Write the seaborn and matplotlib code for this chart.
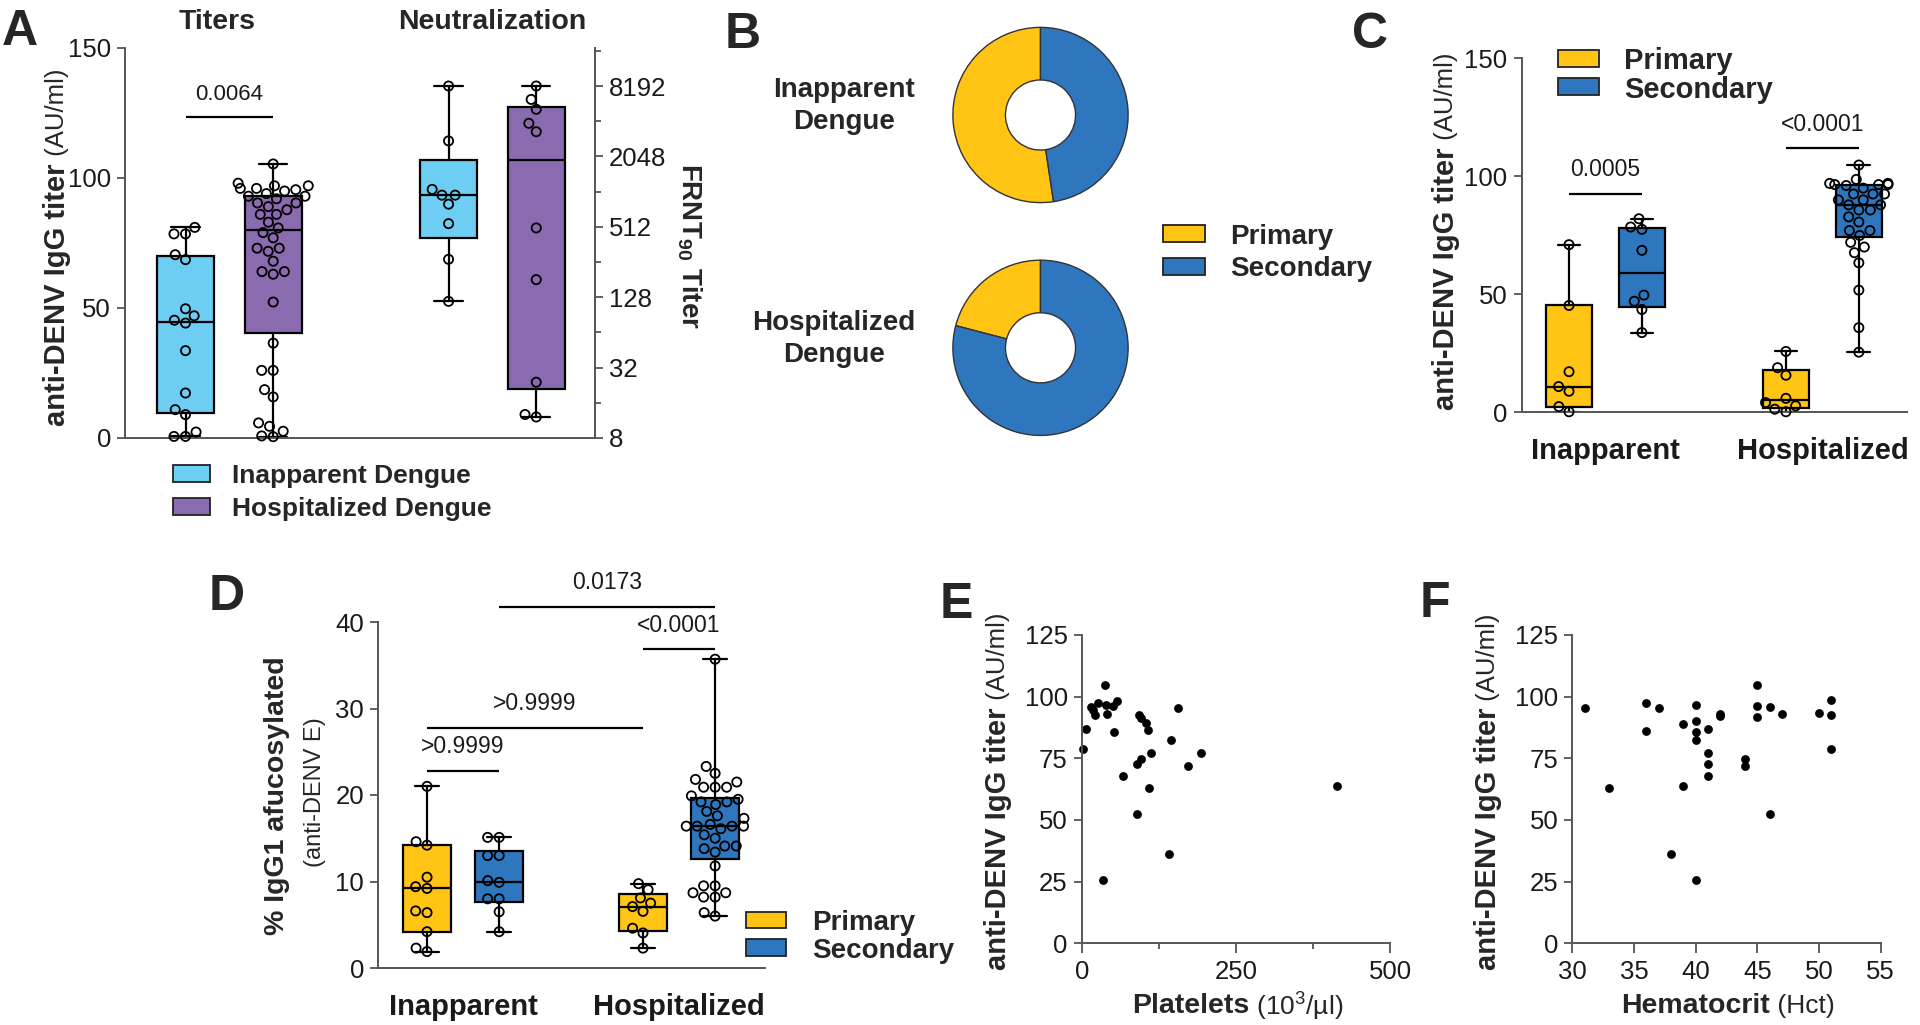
import numpy as np
import pandas as pd
import matplotlib
matplotlib.use('Agg')
import matplotlib.pyplot as plt
import seaborn as sns
from matplotlib.patches import Rectangle
from matplotlib.ticker import FixedLocator, FixedFormatter, NullFormatter

sns.set_style('ticks')
plt.rcParams['font.family'] = ['Liberation Sans', 'DejaVu Sans']
plt.rcParams['mathtext.fontset'] = 'custom'
plt.rcParams['mathtext.rm'] = 'Liberation Sans'
plt.rcParams['mathtext.bf'] = 'Liberation Sans:bold'
plt.rcParams['mathtext.it'] = 'Liberation Sans:italic'
plt.rcParams['mathtext.sf'] = 'Liberation Sans'

# ---------------- DATA ----------------
# Panel A - titers (AU/ml) and FRNT90 neutralization titers
groups_A = ['Inapparent Dengue', 'Hospitalized Dengue']
titer_inapparent = [81, 78.5, 78.5, 70.5, 68.6, 49.7, 47, 45.3, 44.2, 33.6, 17.3, 10.9, 9, 2.3, 0.6, 0.6]
titer_hospitalized = [0.5, 0.8, 2.6, 4.5, 5.8, 15.8, 18.6, 26, 26, 36.5,
                      52.3, 63, 64, 64, 68, 71.8, 73, 73, 77, 79,
                      80.8, 83, 86, 86, 87.8, 89, 90.4, 90.4, 92, 93,
                      93, 94, 95, 95.5, 96, 96, 97, 97, 98, 105.4]
frnt_inapparent = [8192, 2780, 1070, 955, 955, 800, 545, 270, 118]
frnt_hospitalized = [8192, 6290, 5180, 3930, 3330, 501, 181, 24, 12.7, 12.1]
frnt_ticks = [8, 32, 128, 512, 2048, 8192]
pval_A = '0.0064'

# Panel B - primary / secondary infection counts
pie_groups = ['Inapparent\nDengue', 'Hospitalized\nDengue']
pie_primary = [11, 9]
pie_secondary = [10, 34]
infection_types = ['Primary', 'Secondary']

# Panel C - anti-DENV IgG titer by infection type
groups_CD = ['Inapparent', 'Hospitalized']
c_inapp_primary = [71, 45.2, 17.1, 10.8, 8.8, 2.3, 0.1]
c_inapp_secondary = [82, 78.5, 77.5, 68.6, 49.6, 47, 43.5, 33.7]
c_hosp_primary = [25.7, 18.8, 15.6, 5.8, 4.0, 2.6, 1.2, 0.1]
c_hosp_secondary = [104.8, 98.7, 97, 97, 96.5, 96.5, 96.5, 96.1, 95, 92.5, 92.5, 92.5,
                    90, 90, 87.9, 87.9, 85.7, 85.7, 82.8, 80.6, 77, 77, 74.9, 72, 70,
                    67.6, 63.3, 51.7, 35.8, 25.4]
pvals_C = ['0.0005', '<0.0001']

# Panel D - % IgG1 afucosylated
d_inapp_primary = [21.0, 14.6, 14.2, 10.5, 9.4, 9.2, 6.6, 6.4, 4.2, 2.3, 1.9]
d_inapp_secondary = [15.1, 15.1, 13.0, 13.0, 10.1, 9.9, 8.0, 8.0, 6.5, 4.2]
d_hosp_primary = [9.75, 9.05, 8.1, 7.5, 7.1, 6.55, 4.6, 4.05, 2.3]
d_hosp_secondary = [35.7, 23.3, 22.5, 21.8, 21.5, 20.9, 20.9, 20.9, 19.9, 19.5, 19.2, 19.2,
                    18.9, 18.1, 17.6, 17.3, 16.6, 16.4, 16.4, 16.4, 16.4, 16.1, 15.4, 15.0,
                    14.1, 14.1, 13.8, 13.4, 11.8, 9.5, 9.5, 8.7, 8.7, 8.2, 8.2, 6.4, 6.0]
pvals_D = ['>0.9999', '>0.9999', '<0.0001', '0.0173']

# Panel E - platelets vs titer
platelets = [1.6, 6.5, 14.6, 17.8, 21.6, 25.9, 37.8, 39.5, 40.5, 51.4, 57.8, 52.4, 34, 66.5,
             89.2, 93, 96.2, 96.2, 103.8, 108.1, 112.4, 109.7, 89.7, 142.2, 144.9, 156.7,
             171.9, 193.5, 414.6]
titer_E = [78.8, 86.9, 95.9, 94.6, 92.6, 97.3, 104.7, 96.6, 93, 96.4, 98.2, 85.8, 25.7, 67.8,
           72.7, 92.6, 91.2, 74.7, 89.2, 86.5, 77, 62.8, 52.3, 36.2, 82.4, 95.3, 71.8, 77, 63.9]

# Panel F - hematocrit vs titer
hct = [31, 33, 36, 36, 37, 38, 39, 39, 40, 40, 40, 40, 40, 41, 41, 41, 41, 42, 42, 44, 44,
       45, 45, 45, 46, 46, 47, 50, 51, 51, 51]
titer_F = [95.3, 62.8, 97.3, 86.2, 95.3, 36.2, 88.9, 63.9, 96.5, 90.3, 85.8, 82.4, 25.7, 86.9,
           77, 72.7, 67.8, 93, 92.2, 74.7, 71.8, 104.9, 96.2, 91.9, 95.9, 52.3, 92.8, 93.2,
           98.6, 92.4, 78.8]

# ---------------- STYLE ----------------
LBLUE = '#6DCDF2'
PURPLE = '#8B6BAF'
YELLOW = '#FFC414'
BLUE = '#2E77BE'
AXC = '#555555'
TICK_FS = 18.5

W, H = 1920, 1025
fig = plt.figure(figsize=(W / 100, H / 100), dpi=100)


def fx(x):
    return x / W


def fy(y):
    return 1 - y / H


def add_ax(l, t, r, b):
    return fig.add_axes([fx(l), fy(b), (r - l) / W, (b - t) / H])


def ftext(x, y, s, **kw):
    return fig.text(fx(x), fy(y), s, **kw)


def style(ax, left=True, bottom=True, right=False):
    for side in ['top', 'right', 'left', 'bottom']:
        ax.spines[side].set_visible(False)
    for side, vis in [('left', left), ('bottom', bottom), ('right', right)]:
        if vis:
            ax.spines[side].set_visible(True)
            ax.spines[side].set_color(AXC)
            ax.spines[side].set_linewidth(1.4)
    ax.tick_params(axis='both', which='major', labelsize=TICK_FS, length=6, width=1.3,
                   color=AXC, labelcolor='#1a1a1a', pad=4)
    ax.tick_params(axis='both', which='minor', length=4, width=1.3, color=AXC)


def gp_stats(vals):
    v = np.asarray(vals, float)
    q1, med, q3 = np.percentile(v, [25, 50, 75], method='weibull')
    return dict(med=med, q1=q1, q3=q3, whislo=v.min(), whishi=v.max(), fliers=[])


def draw_boxes(ax, datasets, positions, colors, width):
    lw = 1.6
    res = ax.bxp([gp_stats(d) for d in datasets], positions=positions, widths=width,
                 capwidths=width * 0.5, patch_artist=True, showfliers=False,
                 manage_ticks=False,
                 boxprops=dict(edgecolor='black', linewidth=lw),
                 medianprops=dict(color='black', linewidth=lw),
                 whiskerprops=dict(color='black', linewidth=lw),
                 capprops=dict(color='black', linewidth=lw))
    for p, c in zip(res['boxes'], colors):
        p.set_facecolor(c)


def draw_points(ax, datasets, positions):
    df = pd.DataFrame({
        'pos': np.concatenate([[p] * len(d) for p, d in zip(positions, datasets)]),
        'val': np.concatenate([np.asarray(d, float) for d in datasets])})
    n0 = len(ax.collections)
    sns.swarmplot(data=df, x='pos', y='val', native_scale=True, ax=ax, color='white',
                  edgecolor='black', size=6.6, linewidth=1.3, zorder=4, clip_on=False,
                  warn_thresh=1.0)
    for coll in ax.collections[n0:]:
        coll.set_facecolor('none')
    ax.set_xlabel('')
    ax.set_ylabel('')


def legend_box(items, x0, y_centers, pw, ph, tx, fs):
    for (lab, col), yc in zip(items, y_centers):
        fig.add_artist(Rectangle((fx(x0), fy(yc + ph / 2)), pw / W, ph / H,
                                 transform=fig.transFigure, facecolor=col,
                                 edgecolor='#222222', linewidth=1.3))
        ftext(tx, yc, lab, ha='left', va='center_baseline', fontsize=fs, fontweight='bold')


def ylabel_split(x, y, bold, regular, fs_b, fs_r):
    ftext(x, y, bold, rotation=90, rotation_mode='anchor', ha='right', va='center',
          fontsize=fs_b, fontweight='bold')
    ftext(x, y, regular, rotation=90, rotation_mode='anchor', ha='left', va='center',
          fontsize=fs_r)


def xlabel_split(x, y, bold, regular, fs_b, fs_r):
    ftext(x, y, bold, ha='right', va='center_baseline', fontsize=fs_b, fontweight='bold')
    ftext(x, y, regular, ha='left', va='center_baseline', fontsize=fs_r)


def bracket(ax, x1, x2, y, ytext, label, fs=16.5):
    ax.plot([x1, x2], [y, y], color='black', lw=1.6, clip_on=False, solid_capstyle='butt')
    ax.text((x1 + x2) / 2, ytext, label, ha='center', va='center', fontsize=fs,
            clip_on=False, color='#1a1a1a')


# ---------------- PANEL A ----------------
axA = add_ax(125, 48, 595, 438)
axA2 = axA.twinx()
axA2.set_yscale('log', base=2)
posA_t = [0, 1]
posA_n = [3, 4]
wA = 0.65
draw_boxes(axA, [titer_inapparent, titer_hospitalized], posA_t, [LBLUE, PURPLE], wA)
draw_points(axA, [titer_inapparent, titer_hospitalized], posA_t)
draw_boxes(axA2, [frnt_inapparent, frnt_hospitalized], posA_n, [LBLUE, PURPLE], wA)
draw_points(axA2, [frnt_inapparent, frnt_hospitalized], posA_n)
style(axA, left=True, bottom=True)
style(axA2, left=False, bottom=False, right=True)
axA.set_ylim(0, 150)
axA.set_yticks([0, 50, 100, 150])
axA2.set_ylim(8, 2 ** 14.08)
axA2.yaxis.set_major_locator(FixedLocator(frnt_ticks))
axA2.yaxis.set_major_formatter(FixedFormatter([str(t) for t in frnt_ticks]))
axA2.yaxis.set_minor_locator(FixedLocator([16, 64, 256, 1024, 4096, 16384]))
axA2.yaxis.set_minor_formatter(NullFormatter())
axA.set_xlim(-0.69, 4.67)
axA.set_xticks([])
axA2.set_xticks([])
axA.patch.set_visible(False)
bracket(axA, 0, 1, 123.3, 132, pval_A, fs=16)
ftext(217, 22, 'Titers', ha='center', va='center', fontsize=20.5, fontweight='bold')
ftext(492, 22, 'Neutralization', ha='center', va='center', fontsize=20.5, fontweight='bold')
ylabel_split(57, 163, 'anti-DENV IgG titer', ' (AU/ml)', 21, 18.5)
ftext(689, 246, r'FRNT$_{\mathbf{90}}$ Titer', rotation=270, ha='center', va='center',
      fontsize=20, fontweight='bold')
legend_box([(groups_A[0], LBLUE), (groups_A[1], PURPLE)], 173, [473.5, 506.5], 37, 17, 232, 19)

# ---------------- PANEL B ----------------
R = 88.5
for i, (cy, lab_y, lab_x) in enumerate([(115, 105.6, 844), (347.8, 339, 834)]):
    axp = add_ax(1040.5 - R, cy - R, 1040.5 + R, cy + R)
    axp.pie([pie_primary[i], pie_secondary[i]], colors=[YELLOW, BLUE], startangle=90,
            counterclock=True, radius=1,
            wedgeprops=dict(width=0.6, edgecolor='#333333', linewidth=1.0))
    axp.set_xlim(-1.01, 1.01)
    axp.set_ylim(-1.01, 1.01)
    axp.set_aspect('equal')
    axp.axis('off')
    ftext(lab_x, lab_y, pie_groups[i], ha='center', va='center', fontsize=20,
          fontweight='bold', linespacing=1.3)
legend_box([(infection_types[0], YELLOW), (infection_types[1], BLUE)], 1163, [233.5, 266.5],
           42, 17, 1230, 20)

# ---------------- PANEL C ----------------
axC = add_ax(1521.5, 58.5, 1907, 412)
posC = [-0.168, 0.168, 0.832, 1.168]
dataC = [c_inapp_primary, c_inapp_secondary, c_hosp_primary, c_hosp_secondary]
colsCD = [YELLOW, BLUE, YELLOW, BLUE]
draw_boxes(axC, dataC, posC, colsCD, 0.21)
draw_points(axC, dataC, posC)
style(axC)
axC.set_xlim(-0.387, 1.39)
axC.set_ylim(0, 150)
axC.set_yticks([0, 50, 100, 150])
axC.set_xticks([0, 1])
axC.set_xticklabels(groups_CD, fontsize=21, fontweight='bold')
axC.tick_params(axis='x', length=0, pad=18)
bracket(axC, posC[0], posC[1], 92.5, 103, pvals_C[0])
bracket(axC, posC[2], posC[3], 112, 122, pvals_C[1])
ylabel_split(1446, 147, 'anti-DENV IgG titer', ' (AU/ml)', 21, 18.5)
legend_box([(infection_types[0], YELLOW), (infection_types[1], BLUE)], 1558, [58, 86.5],
           41, 17, 1624, 21)

# ---------------- PANEL D ----------------
axD = add_ax(378, 622, 765, 968)
posD = [-0.167, 0.167, 0.833, 1.167]
dataD = [d_inapp_primary, d_inapp_secondary, d_hosp_primary, d_hosp_secondary]
draw_boxes(axD, dataD, posD, colsCD, 0.22)
draw_points(axD, dataD, posD)
style(axD)
axD.set_xlim(-0.394, 1.398)
axD.set_ylim(0, 40)
axD.set_yticks([0, 10, 20, 30, 40])
axD.set_xticks([0, 1])
axD.set_xticklabels(groups_CD, fontsize=21, fontweight='bold')
axD.tick_params(axis='x', length=0, pad=18)
bracket(axD, posD[0], posD[1], 22.8, 25.6, pvals_D[0])
bracket(axD, posD[0], posD[2], 27.7, 30.6, pvals_D[1])
bracket(axD, posD[2], posD[3], 36.9, 39.6, pvals_D[2])
bracket(axD, posD[1], posD[3], 41.7, 44.6, pvals_D[3])
ftext(277, 796, '% IgG1 afucosylated', rotation=90, ha='center', va='center', fontsize=20.5,
      fontweight='bold')
ftext(315, 792, '(anti-DENV E)', rotation=90, ha='center', va='center', fontsize=17)
legend_box([(infection_types[0], YELLOW), (infection_types[1], BLUE)], 746, [920, 947.5],
           40, 16.5, 812, 20)

# ---------------- PANEL E ----------------
axE = add_ax(1081.7, 635, 1390, 943.3)
sns.scatterplot(x=platelets, y=titer_E, ax=axE, color='black', s=40, linewidth=0,
                clip_on=False)
style(axE)
axE.set_xlim(0, 500)
axE.set_ylim(0, 125)
axE.set_xticks([0, 250, 500])
axE.set_xticks([125, 375], minor=True)
axE.set_yticks([0, 25, 50, 75, 100, 125])
axE.tick_params(axis='x', which='major', length=7, pad=5)
axE.tick_params(axis='x', which='minor', length=4)
axE.set_xlabel('')
axE.set_ylabel('')
ylabel_split(998, 707, 'anti-DENV IgG titer', ' (AU/ml)', 21, 18.5)
xlabel_split(1249, 1003, 'Platelets', r' (10$^3$/µl)', 20.5, 19)

# ---------------- PANEL F ----------------
axF = add_ax(1572.3, 635, 1880.7, 943.3)
sns.scatterplot(x=hct, y=titer_F, ax=axF, color='black', s=40, linewidth=0, clip_on=False)
style(axF)
axF.set_xlim(30, 55)
axF.set_ylim(0, 125)
axF.set_xticks([30, 35, 40, 45, 50, 55])
axF.set_yticks([0, 25, 50, 75, 100, 125])
axF.tick_params(axis='x', which='major', length=7, pad=5)
axF.set_xlabel('')
axF.set_ylabel('')
ylabel_split(1488, 708, 'anti-DENV IgG titer', ' (AU/ml)', 21, 18.5)
xlabel_split(1770, 1003, 'Hematocrit', ' (Hct)', 20.5, 19)

# ---------------- PANEL LETTERS ----------------
for letter, x, y in [('A', 2, 45), ('B', 725, 48), ('C', 1352, 48), ('D', 209, 610),
                     ('E', 940, 618), ('F', 1420, 617)]:
    ftext(x, y, letter, ha='left', va='baseline', fontsize=36, fontweight='bold')

fig.savefig('out.png', dpi=100)
